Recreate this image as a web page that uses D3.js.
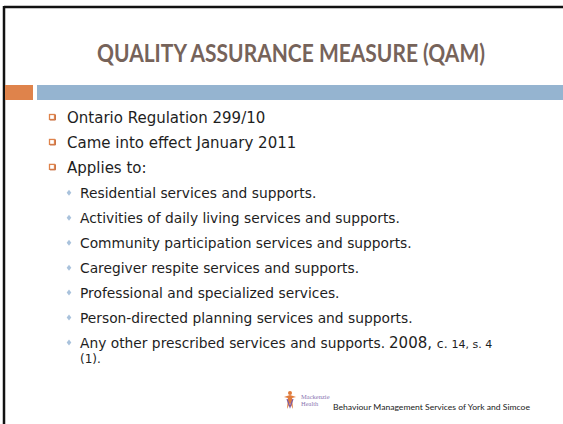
<!DOCTYPE html>
<html>
<head>
<meta charset="utf-8">
<script src="https://cdn.jsdelivr.net/npm/d3@7"></script>
<style>
  body { margin: 0; background: #fff; }
  svg { display: block; }
</style>
</head>
<body>
<div id="slide"></div>
<script>
// slide content
var titleText = "QUALITY ASSURANCE MEASURE (QAM)";
var bulletTexts = ["Ontario Regulation 299/10", "Came into effect January 2011", "Applies to:"];
var subTexts = [
  "Residential services and supports.",
  "Activities of daily living services and supports.",
  "Community participation services and supports.",
  "Caregiver respite services and supports.",
  "Professional and specialized services.",
  "Person-directed planning services and supports.",
  "Any other prescribed services and supports."
];
var lastTail = [["2008, ", 15], ["c. ", 12.5], ["14, s. 4", 11]];
var footerText = "Behaviour Management Services of York and Simcoe";
var logoText = ["Mackenzie", "Health"];

var width = 563, height = 424;
var font = "Lato, 'Open Sans', sans-serif";
var bodyFont = "'DejaVu Sans', sans-serif";

var svg = d3.select("#slide").append("svg")
    .attr("width", width)
    .attr("height", height);

// frame lines (top and left)
svg.append("line").attr("x1", 4).attr("x2", width).attr("y1", 7).attr("y2", 7)
    .attr("stroke", "#111").attr("stroke-width", 2.5);
svg.append("line").attr("x1", 4).attr("x2", 4).attr("y1", 6).attr("y2", height)
    .attr("stroke", "#111").attr("stroke-width", 2.5);

// title
svg.append("text")
    .attr("x", 291).attr("y", 62)
    .attr("text-anchor", "middle")
    .attr("font-family", font)
    .attr("font-weight", "bold")
    .attr("font-size", 24.5)
    .attr("fill", "#76635a")
    .attr("textLength", 388)
    .attr("lengthAdjust", "spacingAndGlyphs")
    .text(titleText);

// accent bars
svg.append("rect").attr("x", 5).attr("y", 85).attr("width", 28).attr("height", 15).attr("fill", "#df834b");
svg.append("rect").attr("x", 37).attr("y", 85).attr("width", width - 37).attr("height", 15).attr("fill", "#95b4d0");

// line positions
var rows = bulletTexts.length + subTexts.length;
var y = d3.scaleLinear().domain([0, rows - 1]).range([123, 347.5]);

// level 1 bullets
var level1 = svg.append("g").selectAll("g")
    .data(bulletTexts)
    .enter().append("g")
    .attr("transform", function(d, i) { return "translate(0," + y(i) + ")"; });

level1.append("rect")
    .attr("x", 49.5).attr("y", -8.5).attr("width", 5).attr("height", 5)
    .attr("fill", "#fff").attr("stroke", "#df834b").attr("stroke-width", 1.3);
level1.append("path")
    .attr("d", "M50,-3 H55.5 V-8.5")
    .attr("fill", "none").attr("stroke", "#c97448").attr("stroke-width", 1);
level1.append("text")
    .attr("x", 67).attr("y", 0)
    .attr("font-family", bodyFont).attr("font-size", 15)
    .attr("fill", "#1e1e1e")
    .text(function(d) { return d; });

// level 2 bullets
var level2 = svg.append("g").selectAll("g")
    .data(subTexts)
    .enter().append("g")
    .attr("transform", function(d, i) { return "translate(0," + y(i + bulletTexts.length) + ")"; });

level2.append("path")
    .attr("d", "M69,-8 L71.3,-5 L69,-2 L66.7,-5 Z")
    .attr("fill", "#a9c2dc");

var subText = level2.append("text")
    .attr("x", 80).attr("y", 0)
    .attr("font-family", bodyFont).attr("font-size", 13.8)
    .attr("fill", "#1e1e1e")
    .text(function(d) { return d; });

// citation tail on the last item
var lastText = subText.filter(function(d, i) { return i === subTexts.length - 1; });
lastTail.forEach(function(t, i) {
  lastText.append("tspan")
      .attr("dx", i === 0 ? 4 : 0)
      .attr("font-size", t[1]).text(t[0]);
});
svg.append("text")
    .attr("x", 80).attr("y", y(rows - 1) + 15)
    .attr("font-family", bodyFont).attr("font-size", 12)
    .attr("fill", "#1e1e1e")
    .text("(1).");

// footer logo
var logo = svg.append("g").attr("transform", "translate(290,401)");
logo.append("circle").attr("cx", 0).attr("cy", -8).attr("r", 2).attr("fill", "#e07b3c");
logo.append("path").attr("d", "M-6,-4 L0,-6 L6,-4 L2,-3 L3,8 L0,2 L-3,8 L-2,-3 Z").attr("fill", "#e07b3c");
logo.append("path").attr("d", "M-3,-2 L0,6 L3,-2").attr("fill", "none").attr("stroke", "#7b5aa6").attr("stroke-width", 1.2);
logo.selectAll("text.logo")
    .data(logoText)
    .enter().append("text")
    .attr("class", "logo")
    .attr("x", 11).attr("y", function(d, i) { return -2 + i * 7; })
    .attr("font-family", "'Liberation Serif', serif").attr("font-size", 6.5)
    .attr("fill", "#8a76b2")
    .text(function(d) { return d; });

svg.append("text")
    .attr("x", 333).attr("y", 410)
    .attr("font-family", font).attr("font-size", 7.3)
    .attr("fill", "#222")
    .attr("textLength", 197)
    .attr("lengthAdjust", "spacingAndGlyphs")
    .text(footerText);
</script>
</body>
</html>
